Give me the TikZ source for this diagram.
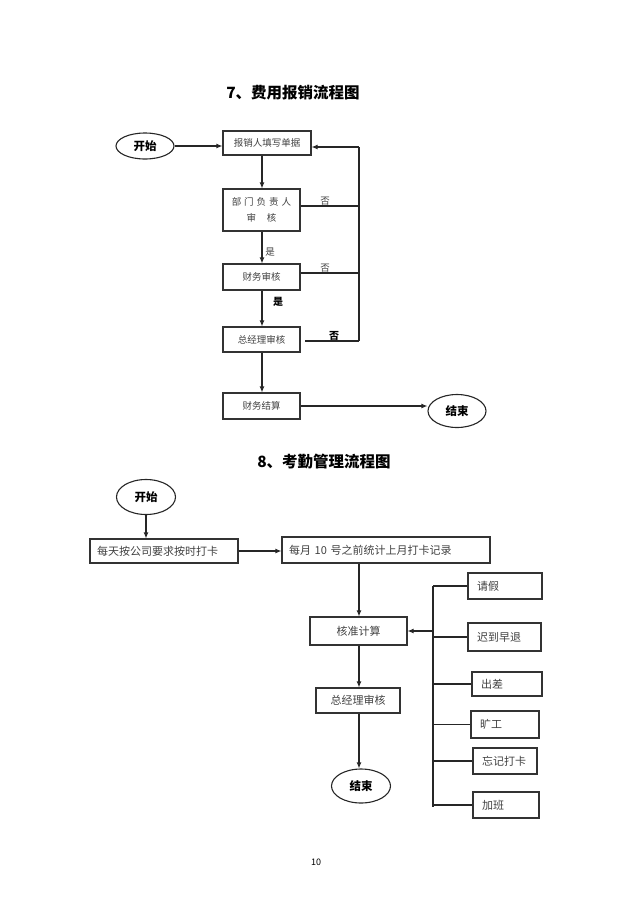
\documentclass[tikz,border=0pt]{standalone}
\usepackage{fontspec}
\setmainfont{Noto Sans CJK SC}
\usetikzlibrary{shapes.geometric,arrows.meta}
\tikzset{
  ln/.style={draw=black!85, line width=1.1pt},
  arr/.style={ln, -{Latex[length=6pt,width=5pt]}},
  box/.style={draw=black!80, line width=1.1pt, rectangle, inner sep=0pt, font=\fontsize{9.5}{12}\selectfont, text=black!75},
  lbox/.style={box, align=left, font=\fontsize{11}{13}\selectfont},
  oval/.style={draw=black!85, line width=1.1pt, ellipse, inner sep=0pt, font=\fontsize{11.5}{13}\selectfont\bfseries},
  ttl/.style={font=\fontsize{15.5}{17}\selectfont\bfseries},
  lab/.style={font=\fontsize{9.5}{11}\selectfont, text=black!75},
  blab/.style={font=\fontsize{10}{11}\selectfont\bfseries}
}
\begin{document}
\begin{tikzpicture}[x=1pt,y=-1pt]
\useasboundingbox (0,0) rectangle (640,906);
% ---------- Section 7 ----------
\node[ttl] (t7) at (293,93) {7、费用报销流程图};
\node[oval, minimum width=58pt, minimum height=26pt] (s1) at (145,146) {开始};
\node[box, minimum width=88pt, minimum height=24pt] (b1) at (267,143) {报销人填写单据};
\node[box, minimum width=77pt, minimum height=42pt, align=center, font=\fontsize{9.5}{16}\selectfont] (b2) at (261.5,210) {部\hspace{3pt}门\hspace{3pt}负\hspace{3pt}责\hspace{3pt}人\\审\hspace{11pt}核};
\node[box, minimum width=77pt, minimum height=26pt] (b3) at (261.5,277) {财务审核};
\node[box, minimum width=77pt, minimum height=25pt] (b4) at (261.5,339.5) {总经理审核};
\node[box, minimum width=77pt, minimum height=26pt] (b5) at (261.5,406) {财务结算};
\node[oval, minimum width=58pt, minimum height=33pt] (e1) at (457,411) {结束};

\coordinate (f1) at (359,147);
\coordinate (f2) at (359,206);
\coordinate (f3) at (359,273);
\coordinate (f4) at (359,341);
\coordinate (g4) at (305,341);
\coordinate (x1) at (262,0);

\draw[arr] (s1.east) -- (s1.east -| b1.west);
\draw[arr] (x1 |- b1.south) -- (x1 |- b2.north);
\draw[arr] (x1 |- b2.south) -- (x1 |- b3.north);
\draw[arr] (x1 |- b3.south) -- (x1 |- b4.north);
\draw[arr] (x1 |- b4.south) -- (x1 |- b5.north);
\draw[arr] (b5.east) -- (b5.east -| e1.west);
\draw[ln] (f4) -- (f1);
\draw[arr] (f1) -- (f1 -| b1.east);
\draw[ln] (b2.east |- f2) -- (f2);
\draw[ln] (b3.east |- f3) -- (f3);
\draw[ln] (g4) -- (f4);

\node[lab] (n1) at (325,201) {否};
\node[lab] (y1) at (270,252) {是};
\node[lab] (n2) at (325,268) {否};
\node[blab] (y2) at (278,302) {是};
\node[blab] (n3) at (334,336) {否};

% ---------- Section 8 ----------
\node[ttl] (t8) at (324,462) {8、考勤管理流程图};
\node[oval, minimum width=59pt, minimum height=35pt] (s2) at (146,497) {开始};
\node[lbox, minimum width=148pt, minimum height=24pt, text width=134pt] (bA) at (164,551) {每天按公司要求按时打卡};
\node[lbox, minimum width=208pt, minimum height=26pt, text width=194pt] (bB) at (386,550) {每月 10 号之前统计上月打卡记录};
\node[box, minimum width=97pt, minimum height=28pt, font=\fontsize{11}{13}\selectfont] (bC) at (358.5,631) {核准计算};
\node[box, minimum width=84pt, minimum height=25pt, font=\fontsize{11}{13}\selectfont] (bD) at (358,700.5) {总经理审核};
\node[oval, minimum width=59pt, minimum height=34pt] (e2) at (361,786) {结束};

\node[lbox, minimum width=74pt, minimum height=26pt, text width=56pt] (r1) at (505,586) {请假};
\node[lbox, minimum width=73pt, minimum height=28pt, text width=55pt] (r2) at (504.5,637) {迟到早退};
\node[lbox, minimum width=70pt, minimum height=24pt, text width=52pt] (r3) at (507,684) {出差};
\node[lbox, minimum width=68pt, minimum height=27pt, text width=50pt] (r4) at (505,724.5) {旷工};
\node[lbox, minimum width=64pt, minimum height=26pt, text width=46pt] (r5) at (505,761) {忘记打卡};
\node[lbox, minimum width=66pt, minimum height=26pt, text width=48pt] (r6) at (506,805) {加班};

\coordinate (x2) at (359,0);
\coordinate (bt) at (433,586);
\coordinate (bb) at (433,807);
\coordinate (bm) at (433,631);

\draw[arr] (s2.south) -- (s2.south |- bA.north);
\draw[arr] (bA.east) -- (bA.east -| bB.west);
\draw[arr] (x2 |- bB.south) -- (x2 |- bC.north);
\draw[arr] (x2 |- bC.south) -- (x2 |- bD.north);
\draw[arr] (x2 |- bD.south) -- (x2 |- e2.north);
\draw[ln] (bt) -- (bb);
\draw[arr] (bm) -- (bC.east);
\draw[ln] (bt) -- (r1.west);
\draw[ln] (bt |- r2.west) -- (r2.west);
\draw[ln] (bt |- r3.west) -- (r3.west);
\draw[ln] (bt |- r4.west) -- (r4.west);
\draw[ln] (bt |- r5.west) -- (r5.west);
\draw[ln] (bt |- r6.west) -- (r6.west);

\node[font=\fontsize{9}{10}\selectfont] (pg) at (316,862) {10};
\end{tikzpicture}
\end{document}
